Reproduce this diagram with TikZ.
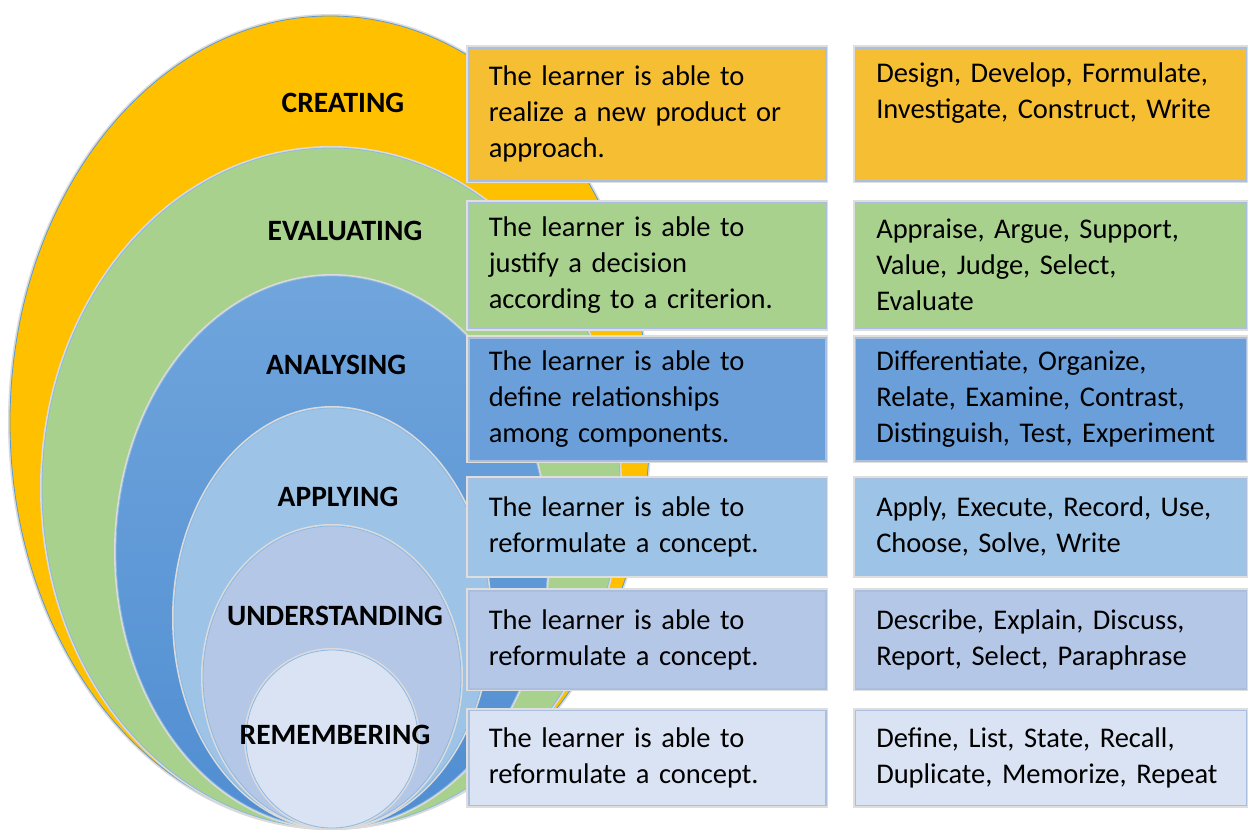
\documentclass[tikz,border=0pt]{standalone}
\usepackage{fontspec}
\setmainfont{Carlito}
\usetikzlibrary{shapes.geometric, positioning}

\definecolor{creatc}{HTML}{FFC000}
\definecolor{creatbox}{HTML}{F5BE33}
\definecolor{evalc}{HTML}{A9D18E}
\definecolor{analc}{HTML}{6A9FD9}
\definecolor{analtop}{HTML}{70A5DC}
\definecolor{analbot}{HTML}{508ED2}
\definecolor{applc}{HTML}{9DC3E6}
\definecolor{undc}{HTML}{B4C7E7}
\definecolor{remc}{HTML}{DAE3F3}
\definecolor{rimc}{HTML}{5B9BD5}
\definecolor{framec}{HTML}{A9BFDD}

\tikzstyle{level} = [ellipse, inner sep=0pt, draw=rimc!70, line width=0.8pt, preaction={draw=black!14, line width=4pt}]
\tikzstyle{lbl} = [font=\fontsize{29.5}{32}\selectfont\bfseries]
\tikzstyle{descr} = [rectangle, draw=framec, line width=1.5pt, minimum width=357pt, text width=317pt, inner xsep=20pt, inner ysep=0pt, align=left, font=\fontsize{28.5}{36}\selectfont, preaction={draw=black!13, line width=5pt}]
\tikzstyle{verbs} = [descr, minimum width=391pt, text width=349pt, inner xsep=21pt]

\begin{document}
\begin{tikzpicture}[x=1pt, y=-1pt]
\useasboundingbox (0,0) rectangle (1248,830);

% nested levels
\node (createll) [level, fill=creatc, draw=rimc, minimum width=640pt, minimum height=812pt] at (330,422) {};
\node (evalell) [level, fill=evalc, minimum width=578pt, minimum height=680pt] at (331,488) {};
\node (analell) [level, top color=analtop, bottom color=analbot, minimum width=432pt, minimum height=552pt] at (332,552) {};
\node (applell) [level, fill=applc, minimum width=316pt, minimum height=420pt] at (332,618) {};
\node (undell) [level, fill=undc, minimum width=258pt, minimum height=302pt] at (332,677) {};
\node (remell) [level, fill=remc, minimum width=172pt, minimum height=178pt] at (332,739) {};

\node (creatlbl) [lbl] at (343,103) {CREATING};
\node (evallbl) [lbl] at (345,231) {EVALUATING};
\node (anallbl) [lbl] at (336,365) {ANALYSING};
\node (appllbl) [lbl] at (338,497) {APPLYING};
\node (undlbl) [lbl] at (335,616) {UNDERSTANDING};
\node (remlbl) [lbl] at (335,735) {REMEMBERING};

% what the learner does
\node (creatdesc) [descr, fill=creatbox, minimum height=133pt, anchor=north west] at (468,47) {The learner is able to\\realize a new product or\\approach.};
\node (evaldesc) [descr, fill=evalc, minimum height=126pt, below=20pt of creatdesc] {The learner is able to\\justify a decision\\according to a criterion.};
\node (analdesc) [descr, fill=analc, minimum height=123pt, below=8pt of evaldesc] {The learner is able to\\define relationships\\among components.};
\node (appldesc) [descr, fill=applc, minimum height=97pt, below=16pt of analdesc] {The learner is able to\\reformulate a concept.};
\node (unddesc) [descr, fill=undc, minimum height=98pt, below=14pt of appldesc] {The learner is able to\\reformulate a concept.};
\node (remdesc) [descr, fill=remc, minimum height=95pt, below=20pt of unddesc] {The learner is able to\\reformulate a concept.};

% verbs
\node (creatverb) [verbs, fill=creatbox, minimum height=133pt, right=28pt of creatdesc] {Design, Develop, Formulate,\\Investigate, Construct, Write\\\strut};
\node (evalverb) [verbs, fill=evalc, minimum height=126pt, right=28pt of evaldesc] {Appraise, Argue, Support,\\Value, Judge, Select,\\Evaluate};
\node (analverb) [verbs, fill=analc, minimum height=123pt, right=28pt of analdesc] {Differentiate, Organize,\\Relate, Examine, Contrast,\\Distinguish, Test, Experiment};
\node (applverb) [verbs, fill=applc, minimum height=97pt, right=28pt of appldesc] {Apply, Execute, Record, Use,\\Choose, Solve, Write};
\node (undverb) [verbs, fill=undc, minimum height=98pt, right=28pt of unddesc] {Describe, Explain, Discuss,\\Report, Select, Paraphrase};
\node (remverb) [verbs, fill=remc, minimum height=95pt, right=28pt of remdesc] {Define, List, State, Recall,\\Duplicate, Memorize, Repeat};

\end{tikzpicture}
\end{document}
